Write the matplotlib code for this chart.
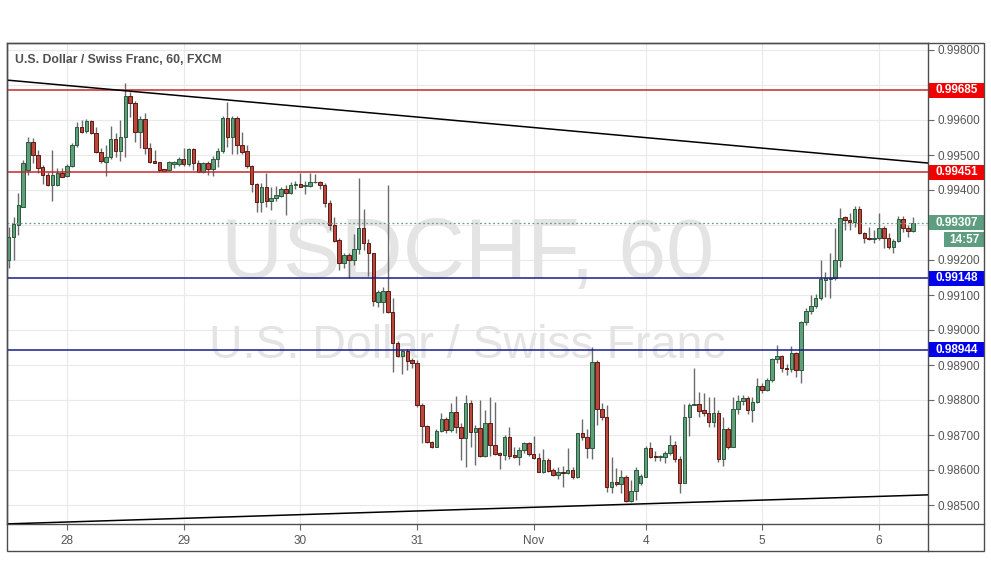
import numpy as np
import matplotlib
matplotlib.use("Agg")
import matplotlib.pyplot as plt
import matplotlib.transforms as mtransforms
from matplotlib.patches import Rectangle
from matplotlib.lines import Line2D
from matplotlib import font_manager

# USD/CHF hourly candles, prices in 1/100000 (99200 -> 0.99200)
opens_pts = [
    99200, 99265, 99299, 99352, 99456, 99537, 99499, 99465, 99442, 99415,
    99415, 99449, 99440, 99469, 99528, 99579, 99568, 99596, 99562, 99508,
    99481, 99493, 99547, 99511, 99551, 99669, 99648, 99567, 99603, 99521,
    99483, 99479, 99459, 99457, 99474, 99474, 99489, 99474, 99516, 99476,
    99451, 99476, 99460, 99489, 99511, 99607, 99552, 99607, 99529, 99511,
    99469, 99416, 99367, 99409, 99369, 99376, 99384, 99402, 99392, 99415,
    99417, 99411, 99412, 99422, 99422, 99413, 99364, 99299, 99257, 99192,
    99213, 99200, 99231, 99291, 99249, 99219, 99080, 99080, 99112, 99052,
    98964, 98926, 98941, 98914, 98907, 98786, 98726, 98681, 98667, 98712,
    98745, 98714, 98767, 98724, 98691, 98791, 98710, 98719, 98640, 98734,
    98671, 98649, 98643, 98694, 98643, 98637, 98657, 98676, 98646, 98634,
    98595, 98629, 98600, 98587, 98594, 98591, 98600, 98579, 98705, 98694,
    98662, 98909, 98774, 98751, 98551, 98567, 98560, 98579, 98512, 98540,
    98562, 98581, 98662, 98640, 98636, 98638, 98649, 98671, 98631, 98564,
    98751, 98786, 98788, 98770, 98764, 98738, 98764, 98631, 98716, 98667,
    98774, 98797, 98805, 98771, 98795, 98840, 98829, 98857, 98917, 98925,
    98892, 98888, 98933, 98886, 99022, 99054, 99069, 99091, 99144, 99146,
    99148, 99200, 99324, 99314, 99310, 99346, 99276, 99262, 99259, 99262,
    99291, 99264, 99238, 99254, 99317, 99292, 99283,
]
highs_pts = [
    99295, 99324, 99392, 99486, 99551, 99548, 99514, 99471, 99452, 99514,
    99462, 99462, 99474, 99533, 99595, 99600, 99602, 99600, 99581, 99519,
    99529, 99583, 99562, 99600, 99705, 99681, 99655, 99612, 99619, 99533,
    99514, 99481, 99460, 99483, 99483, 99494, 99519, 99519, 99519, 99486,
    99481, 99483, 99498, 99521, 99612, 99651, 99612, 99612, 99565, 99529,
    99471, 99420, 99419, 99449, 99409, 99411, 99409, 99414, 99424, 99427,
    99449, 99427, 99449, 99446, 99427, 99419, 99371, 99324, 99262, 99219,
    99219, 99274, 99433, 99345, 99259, 99221, 99114, 99124, 99414, 99091,
    98969, 98943, 98945, 98919, 98914, 98791, 98729, 98684, 98716, 98762,
    98752, 98791, 98811, 98734, 98814, 98800, 98729, 98800, 98771, 98809,
    98795, 98652, 98699, 98722, 98667, 98667, 98681, 98681, 98697, 98649,
    98659, 98633, 98607, 98608, 98611, 98662, 98609, 98707, 98747, 98716,
    98951, 98914, 98792, 98786, 98638, 98605, 98600, 98586, 98571, 98608,
    98590, 98669, 98681, 98655, 98642, 98655, 98700, 98684, 98640, 98789,
    98792, 98891, 98824, 98821, 98808, 98808, 98771, 98751, 98724, 98808,
    98814, 98814, 98811, 98808, 98862, 98850, 98862, 98921, 98957, 98929,
    98902, 98955, 98938, 99026, 99062, 99100, 99102, 99200, 99167, 99219,
    99291, 99350, 99326, 99333, 99355, 99355, 99279, 99295, 99286, 99333,
    99298, 99276, 99260, 99326, 99326, 99300, 99324,
]
lows_pts = [
    99176, 99200, 99271, 99352, 99443, 99476, 99449, 99416, 99411, 99369,
    99411, 99436, 99436, 99465, 99522, 99562, 99564, 99560, 99505, 99476,
    99440, 99490, 99495, 99484, 99495, 99609, 99538, 99519, 99502, 99476,
    99476, 99451, 99453, 99454, 99462, 99469, 99469, 99469, 99456, 99451,
    99448, 99443, 99441, 99467, 99505, 99524, 99502, 99502, 99502, 99464,
    99393, 99338, 99338, 99352, 99343, 99369, 99381, 99329, 99390, 99404,
    99408, 99390, 99409, 99419, 99402, 99352, 99286, 99252, 99171, 99176,
    99148, 99186, 99217, 99229, 99154, 99070, 99065, 99049, 99048, 98881,
    98923, 98874, 98886, 98891, 98781, 98676, 98676, 98662, 98665, 98710,
    98705, 98710, 98705, 98629, 98610, 98667, 98614, 98638, 98636, 98640,
    98643, 98602, 98629, 98631, 98634, 98614, 98648, 98640, 98631, 98593,
    98591, 98595, 98583, 98574, 98551, 98589, 98574, 98576, 98686, 98633,
    98631, 98729, 98743, 98538, 98535, 98555, 98535, 98510, 98510, 98514,
    98557, 98579, 98633, 98627, 98627, 98619, 98643, 98624, 98533, 98562,
    98697, 98786, 98751, 98754, 98724, 98724, 98624, 98612, 98659, 98665,
    98760, 98786, 98760, 98738, 98791, 98820, 98826, 98851, 98905, 98881,
    98871, 98881, 98867, 98848, 99014, 99045, 99062, 99086, 99095, 99091,
    99143, 99181, 99286, 99286, 99295, 99273, 99248, 99257, 99248, 99257,
    99235, 99231, 99219, 99251, 99279, 99267, 99281,
]
closes_pts = [
    99267, 99303, 99356, 99476, 99537, 99499, 99462, 99442, 99413, 99442,
    99448, 99438, 99469, 99528, 99579, 99567, 99596, 99562, 99508, 99482,
    99493, 99547, 99511, 99551, 99669, 99648, 99567, 99603, 99521, 99481,
    99478, 99456, 99455, 99479, 99479, 99489, 99474, 99516, 99476, 99451,
    99476, 99460, 99489, 99511, 99607, 99552, 99607, 99529, 99509, 99469,
    99416, 99367, 99409, 99369, 99378, 99386, 99402, 99392, 99415, 99417,
    99409, 99415, 99422, 99423, 99413, 99364, 99299, 99255, 99192, 99213,
    99200, 99231, 99291, 99249, 99219, 99082, 99109, 99112, 99052, 98964,
    98926, 98941, 98912, 98907, 98786, 98726, 98681, 98667, 98712, 98745,
    98714, 98767, 98724, 98691, 98791, 98710, 98719, 98640, 98734, 98671,
    98646, 98643, 98695, 98640, 98637, 98657, 98676, 98646, 98634, 98595,
    98629, 98598, 98587, 98594, 98591, 98600, 98579, 98705, 98694, 98662,
    98909, 98774, 98751, 98551, 98567, 98560, 98579, 98512, 98540, 98600,
    98583, 98662, 98638, 98636, 98640, 98649, 98671, 98631, 98564, 98751,
    98786, 98788, 98770, 98764, 98738, 98764, 98631, 98716, 98667, 98774,
    98798, 98805, 98771, 98795, 98840, 98829, 98857, 98917, 98925, 98891,
    98888, 98933, 98886, 99022, 99054, 99069, 99091, 99146, 99148, 99150,
    99200, 99321, 99314, 99310, 99346, 99276, 99262, 99259, 99262, 99291,
    99264, 99238, 99254, 99317, 99292, 99283, 99307,
]

day_ticks = [12, 36, 60, 84, 108, 131, 155, 179]
day_labels = ["28", "29", "30", "31", "Nov", "4", "5", "6"]

grid_prices = [0.985, 0.986, 0.987, 0.988, 0.989, 0.990, 0.991,
               0.992, 0.993, 0.994, 0.995, 0.996, 0.997, 0.998]
axis_prices = [0.985, 0.986, 0.987, 0.988, 0.989, 0.990, 0.991,
               0.992, 0.994, 0.995, 0.996, 0.998]

resistance_levels = [0.99685, 0.99451]
support_levels = [0.99148, 0.98944]
last_price = 0.99307
countdown = "14:57"

# trend lines drawn on the chart (candle index, price)
upper_trend_x = [-0.34, 189.1]
upper_trend_y = [0.99714, 0.99477]
lower_trend_x = [-0.34, 189.1]
lower_trend_y = [0.98446, 0.98529]

title = "U.S. Dollar / Swiss Franc, 60, FXCM"

opens = np.array(opens_pts) / 1e5
highs = np.array(highs_pts) / 1e5
lows = np.array(lows_pts) / 1e5
closes = np.array(closes_pts) / 1e5

plt.rcParams['font.family'] = ['Liberation Sans', 'DejaVu Sans']

W, H = 991, 588
PX = 0.001 / 35  # price per pixel


def fx(px):
    return px / W


def fy(py):
    return 1 - py / H


fig = plt.figure(figsize=(W / 100, H / 100), dpi=100)
fig.patch.set_facecolor('white')
ax = fig.add_axes([fx(7), fy(524), (928 - 7) / W, (524 - 43) / H])

ax.set_xlim(-0.34, 189.1)
ax.set_ylim(0.998 - 474 * PX, 0.998 + 7 * PX)

# grid
for p in grid_prices:
    ax.axhline(p, color='#e9e9e9', lw=0.8, zorder=0.5)
for d in day_ticks:
    ax.axvline(d, color='#e9e9e9', lw=0.8, zorder=0.5)

# watermark
names = {f.name for f in font_manager.fontManager.ttflist}
if 'Liberation Sans Narrow' in names:
    wm_family, wm_size = 'Liberation Sans Narrow', 71
else:
    wm_family, wm_size = 'Liberation Sans', 62
ax.text(fx(468), fy(278), "USDCHF, 60", transform=fig.transFigure,
        ha='center', va='baseline', fontsize=wm_size, family=wm_family,
        color='#e4e4e4', zorder=1)
ax.text(fx(467), fy(358), "U.S. Dollar / Swiss Franc", transform=fig.transFigure,
        ha='center', va='baseline', fontsize=33.5, color='#e4e4e4', zorder=1)

# candles
x = np.arange(len(closes))
up = closes >= opens
ax.vlines(x, lows, highs, color='#6b6b6d', lw=1, zorder=2)
ax.bar(x[up], np.maximum(closes - opens, 1e-6)[up], bottom=opens[up], width=0.72,
       color='#5f9f79', edgecolor='#2a5a3c', lw=0.7, zorder=3)
ax.bar(x[~up], np.maximum(opens - closes, 1e-6)[~up], bottom=closes[~up], width=0.72,
       color='#bb463b', edgecolor='#5b1a13', lw=0.7, zorder=3)

# levels and trend lines
for p in resistance_levels:
    ax.axhline(p, color='#c62828', lw=1.1, zorder=4)
for p in support_levels:
    ax.axhline(p, color='#1a1a8c', lw=1.1, zorder=4)
ax.axhline(last_price, color='#6a9f86', lw=0.9, ls=(0, (1.5, 2)), zorder=4)
ax.plot(upper_trend_x, upper_trend_y, color='black', lw=1.1, zorder=4)
ax.plot(lower_trend_x, lower_trend_y, color='black', lw=1.1, zorder=4)

# axes styling
for s in ax.spines.values():
    s.set_color('#4d4d4d')
    s.set_linewidth(1)
ax.yaxis.tick_right()
ax.set_yticks(axis_prices)
ax.set_yticklabels([f"{p:.5f}" for p in axis_prices])
ax.set_xticks(day_ticks)
ax.set_xticklabels(day_labels)
ax.tick_params(axis='y', direction='out', length=4, width=0.8, color='#666666',
               labelsize=8.5, labelcolor='#555555', pad=2.5)
ax.tick_params(axis='x', direction='out', length=4, width=0.8, color='#666666',
               labelsize=8.5, labelcolor='#555555', pad=4)

# price tags on the right axis
tag_trans = mtransforms.blended_transform_factory(fig.transFigure, ax.transData)


def price_tag(price, text, color, x0=929, x1=984, h=15):
    ax.add_patch(Rectangle((fx(x0), price - h / 2 * PX), (x1 - x0) / W, h * PX,
                           transform=tag_trans, facecolor=color, edgecolor='none',
                           clip_on=False, zorder=6))
    ax.text(fx((x0 + x1) / 2), price, text, transform=tag_trans, ha='center',
            va='center', color='white', fontsize=8.5, fontweight='bold',
            clip_on=False, zorder=7)


for p in resistance_levels:
    price_tag(p, f"{p:.5f}", '#f20000')
for p in support_levels:
    price_tag(p, f"{p:.5f}", '#0000ee')
price_tag(last_price, f"{last_price:.5f}", '#5e9e80')
price_tag(last_price - 17 * PX, countdown, '#5e9e80', x0=944)

# title
fig.text(fx(15), fy(60), title, ha='left', va='center', fontsize=8.8,
         fontweight='bold', color='#505050')

# outer frame of the chart widget
fig.add_artist(Rectangle((fx(7), fy(551)), (984 - 7) / W, (551 - 43) / H,
                         transform=fig.transFigure, fill=False,
                         edgecolor='#4d4d4d', lw=1))
fig.add_artist(Line2D([fx(928), fx(928)], [fy(524), fy(551)],
                      transform=fig.transFigure, color='#4d4d4d', lw=1))
fig.add_artist(Line2D([fx(928), fx(984)], [fy(524), fy(524)],
                      transform=fig.transFigure, color='#4d4d4d', lw=1))

fig.savefig("out.png", dpi=100)
